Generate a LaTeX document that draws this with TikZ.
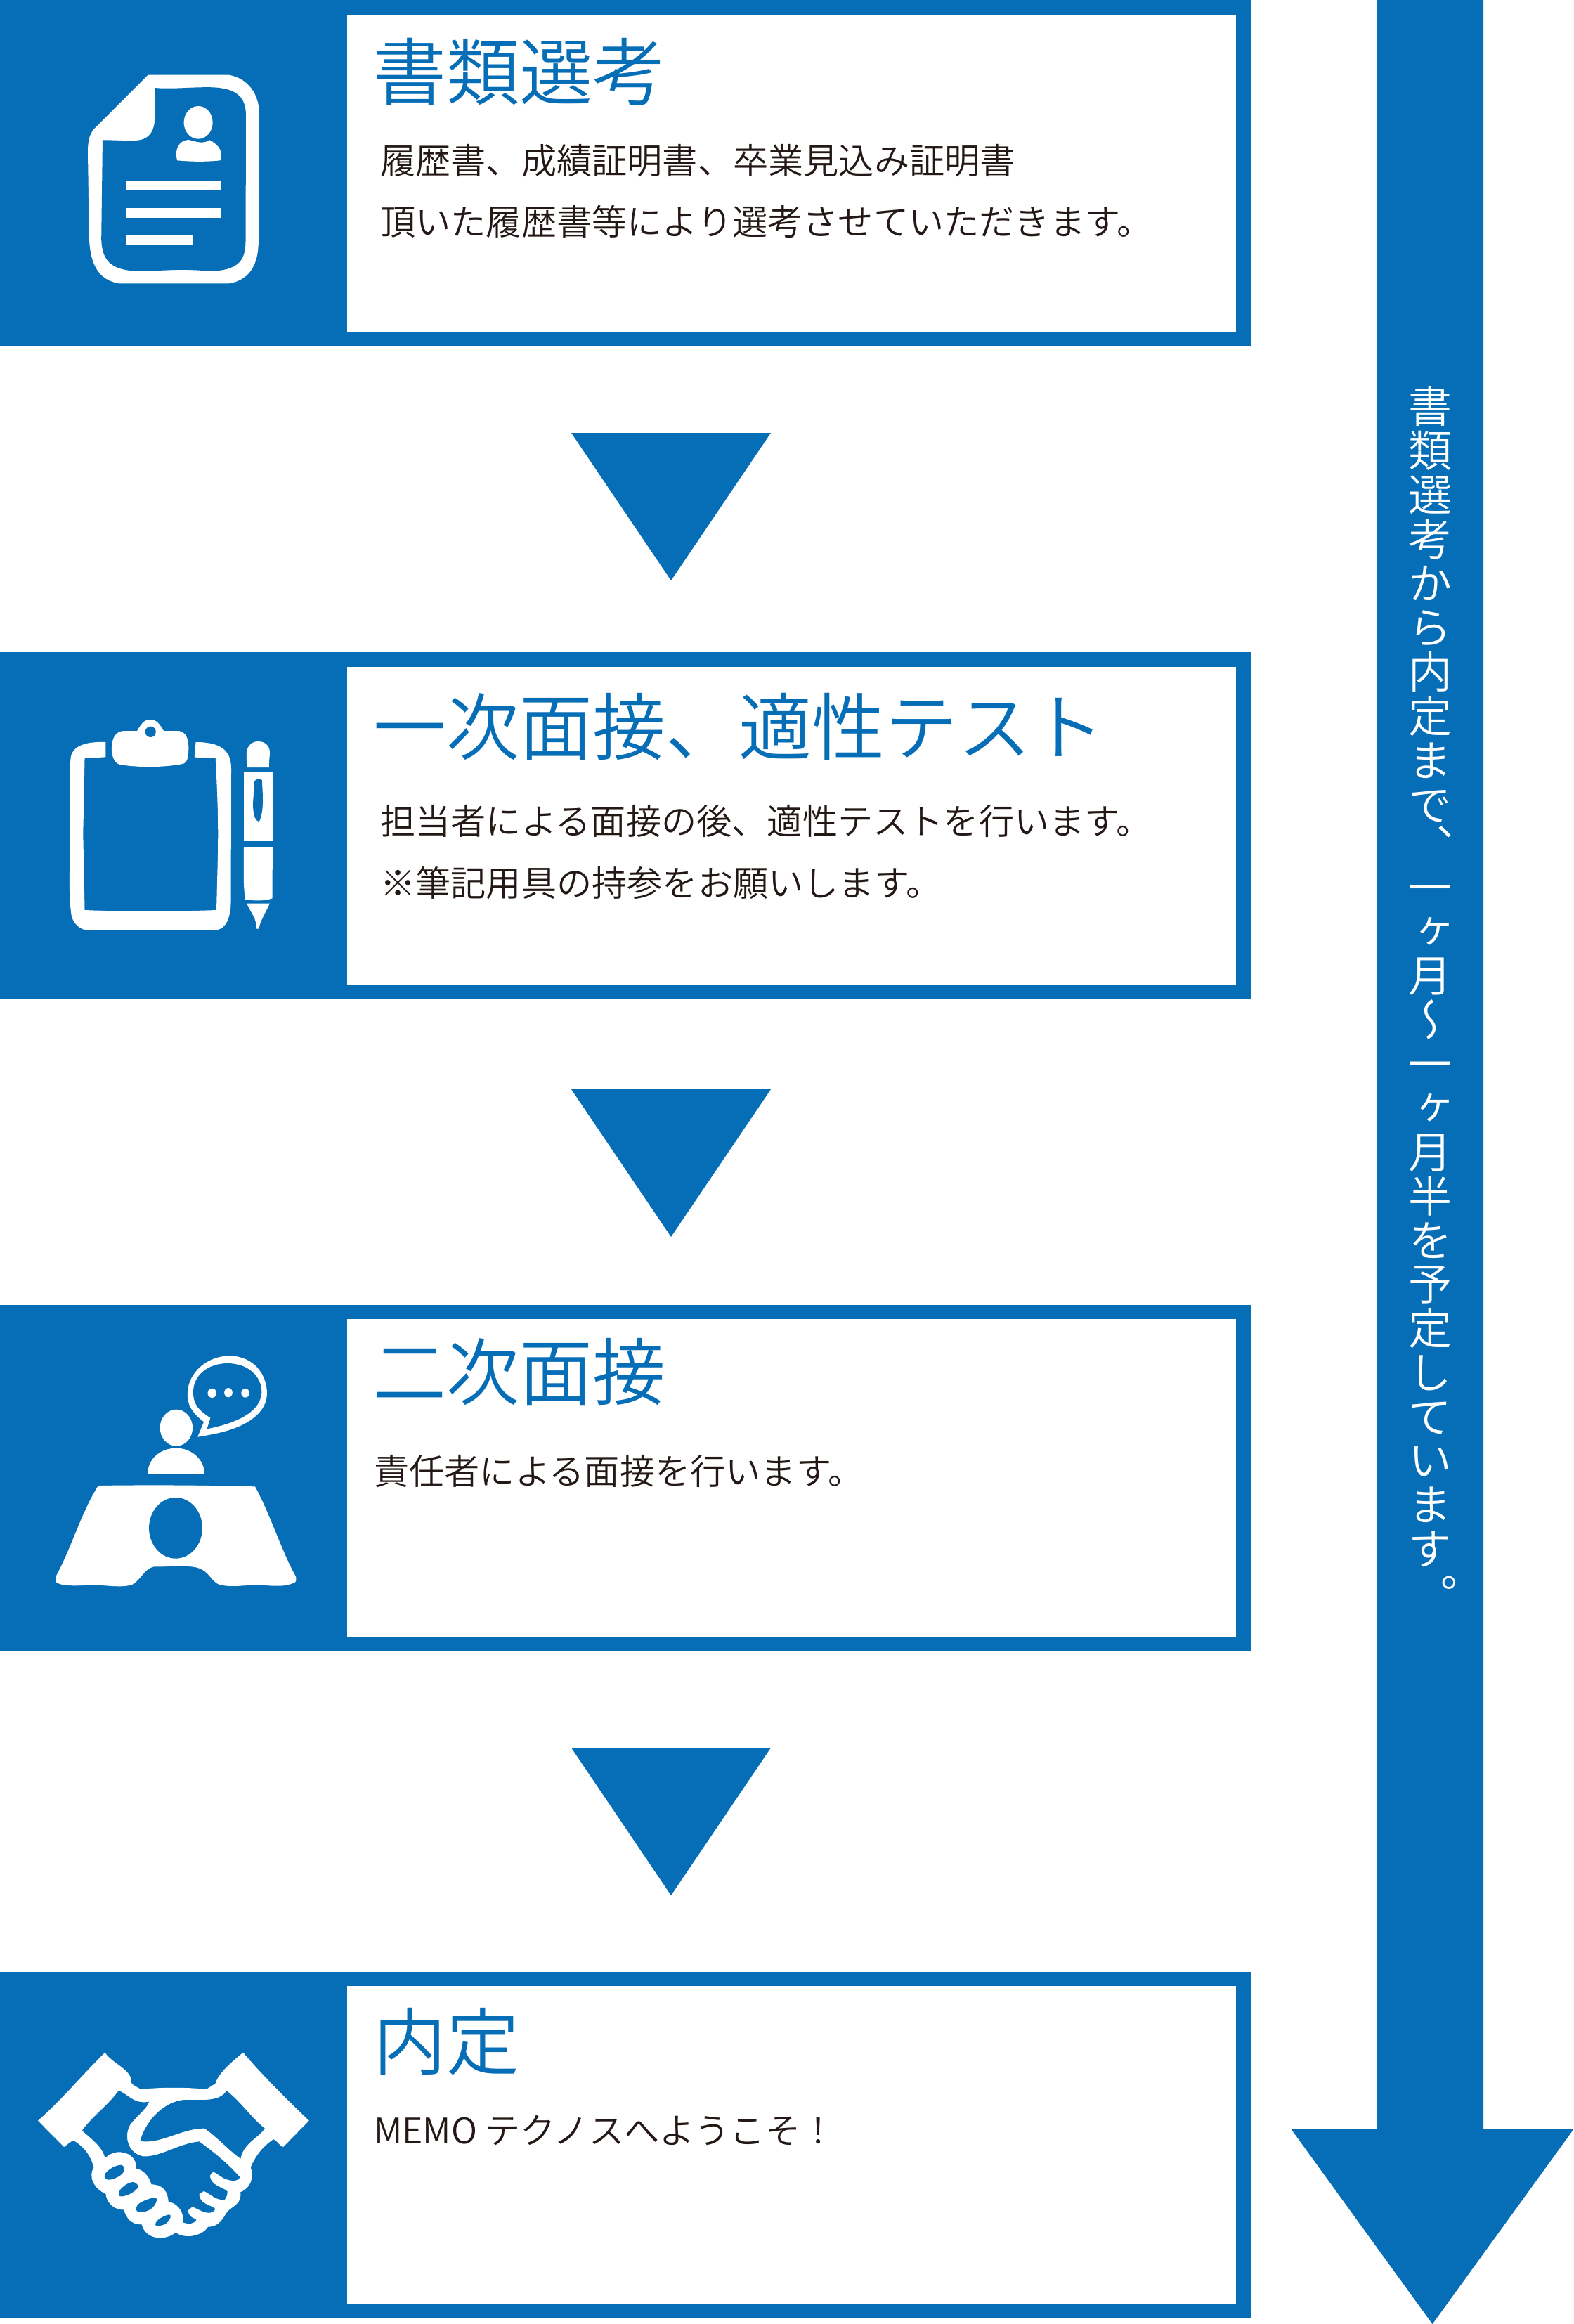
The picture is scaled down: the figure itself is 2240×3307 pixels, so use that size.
\documentclass[tikz,border=0pt]{standalone}
\usepackage{fontspec}
\newfontfamily\jpt{Noto Sans CJK JP DemiLight}
\newfontfamily\vjp[RawFeature=+vert]{Noto Sans CJK JP DemiLight}
\definecolor{tblue}{HTML}{066DB7}
\definecolor{tink}{HTML}{231815}
\tikzset{
  band/.style={fill=tblue,draw=none},
  paper/.style={fill=white,draw=none},
  dnarrow/.style={fill=tblue,draw=none},
  titletext/.style={anchor=base west,inner sep=0pt,text=tblue,font=\jpt\fontsize{104}{104}\selectfont},
  bodytext/.style={anchor=base west,inner sep=0pt,text=tink,font=\jpt\fontsize{50.2}{51}\selectfont},
  vtext/.style={anchor=base,inner sep=0pt,text=white,font=\vjp\fontsize{62}{63}\selectfont},
  icon/.style={x=0.44643pt,y=-0.33333pt,yshift=-#1pt},
  ink/.style={fill=white,draw=none},
  hole/.style={fill=tblue,draw=none},
}
\begin{document}
\begin{tikzpicture}[x=1pt,y=-1pt]
\useasboundingbox (0,0) rectangle (2240,3307);
\fill[white] (0,0) rectangle (2240,3307);
% bands
\fill[band] (0,0) rectangle (1780,493);
\fill[paper] (494,21) rectangle (1759,472);
\fill[band] (0,928) rectangle (1780,1422);
\fill[paper] (494,949) rectangle (1759,1401);
\fill[band] (0,1857) rectangle (1780,2350);
\fill[paper] (494,1877) rectangle (1759,2329);
\fill[band] (0,2806) rectangle (1780,3299);
\fill[paper] (494,2826) rectangle (1759,3279);
% triangles
\fill[dnarrow] (813,616) -- (1097,616) -- (955,826) -- cycle;
\fill[dnarrow] (813,1550) -- (1097,1550) -- (955,1760) -- cycle;
\fill[dnarrow] (813,2487) -- (1097,2487) -- (955,2697) -- cycle;
% long arrow
\fill[dnarrow] (1959,0) -- (2111,0) -- (2111,3029) -- (2240,3029) -- (2038.5,3307) -- (1837,3029) -- (1959,3029) -- cycle;
% titles and text
\node[titletext] (t1) at (531,141) {書類選考};
\node[bodytext] (b1a) at (541,247) {履歴書、成績証明書、卒業見込み証明書};
\node[bodytext] (b1b) at (541,334) {頂いた履歴書等により選考させていただきます。};
\node[titletext] (t2) at (531,1073) {一次面接、適性テスト};
\node[bodytext] (b2a) at (541,1187) {担当者による面接の後、適性テストを行います。};
\node[bodytext] (b2b) at (541,1275) {※筆記用具の持参をお願いします。};
\node[titletext] (t3) at (531,1991) {二次面接};
\node[bodytext] (b3a) at (532,2112) {責任者による面接を行います。};
\node[titletext] (t4) at (531,2944) {内定};
\node[bodytext] (b4a) at (532,3050) {MEMO テクノスへようこそ！};
% vertical text
\foreach \c [count=\i from 0] in {書,類,選,考,か,ら,内,定,ま,で}
  \node[vtext] (va\i) at (2035,601+63*\i) {\c};
\node[vtext] (vacomma) at (2037,1226) {、};
\foreach \c [count=\i from 0] in {一,ヶ,月,～,一,ヶ,月,半,を,予,定,し,て,い,ま,す}
  \node[vtext] (vb\i) at (2035,1286+62.75*\i) {\c};
\node[vtext] (vbstop) at (2043,2293) {。};
% icon 1: document
\begin{scope}[icon=0]
\fill[ink] (472,320) -- (730,320) .. controls (790,335) and (825,400) .. (826,480) -- (824,1030) .. controls (824,1120) and (800,1195) .. (730,1210) -- (380,1210) .. controls (310,1195) and (285,1120) .. (284,1000) -- (280,650) .. controls (280,600) and (285,575) .. (300,550) -- cycle;
\fill[hole] (493,375) .. controls (550,382) and (620,370) .. (680,373) .. controls (750,378) and (783,410) .. (784,490) -- (783,1020) .. controls (783,1100) and (770,1150) .. (680,1157) .. controls (640,1155) and (600,1150) .. (560,1152) .. controls (520,1154) and (470,1157) .. (430,1157) .. controls (360,1150) and (325,1120) .. (323,1020) -- (327,598) .. controls (380,598) and (420,604) .. (445,598) .. controls (480,590) and (493,550) .. (493,510) -- cycle;
\fill[ink] (632,523) ellipse [x radius=46,y radius=70];
\fill[ink] (565,685) .. controls (555,640) and (570,600) .. (600,597) .. controls (625,603) and (645,618) .. (668,598) .. controls (700,620) and (712,650) .. (702,685) .. controls (650,692) and (610,690) .. cycle;
\fill[ink] (404,772) rectangle (703,811);
\fill[ink] (404,889) rectangle (703,929);
\fill[ink] (404,1004) rectangle (613,1043);
\end{scope}
% icon 2: clipboard and pen
\begin{scope}[icon=920]
\fill[ink] (337,408) .. controls (270,405) and (228,425) .. (225,480) .. controls (218,600) and (225,750) .. (224,850) .. controls (222,950) and (218,1060) .. (228,1150) .. controls (235,1185) and (255,1205) .. (272,1210) -- (690,1210) .. controls (720,1205) and (735,1160) .. (736,1090) -- (737,520) .. controls (737,440) and (700,408) .. (624,408) -- (620,473) -- (687,475) .. controls (692,600) and (695,700) .. (695,800) .. controls (695,900) and (692,1000) .. (690,1125) .. controls (540,1132) and (400,1132) .. (270,1125) -- (265,800) -- (270,477) -- (337,472) -- cycle;
\fill[ink] (437,360) .. controls (450,330) and (460,312) .. (478,312) .. controls (500,312) and (508,330) .. (522,360) -- (570,360) .. controls (595,365) and (602,400) .. (601,440) .. controls (600,480) and (595,495) .. (585,500) .. controls (530,517) and (430,517) .. (380,503) .. controls (362,495) and (355,460) .. (356,430) .. controls (358,385) and (370,362) .. (395,360) -- cycle;
\fill[hole] (480,364) ellipse [x radius=17,y radius=23];
\fill[ink] (787,516) .. controls (787,490) and (785,470) .. (786,450) .. controls (790,420) and (805,405) .. (823,405) .. controls (845,405) and (860,425) .. (860,450) .. controls (860,475) and (857,490) .. (858,516) -- cycle;
\fill[ink] (777,533) rectangle (869,831);
\fill[hole] (810,578) .. controls (812,570) and (825,560) .. (835,570) .. controls (838,640) and (842,700) .. (826,748) .. controls (805,740) and (805,680) .. (808,640) -- cycle;
\fill[ink] (777,855) -- (869,855) -- (868,1075) .. controls (840,1088) and (810,1085) .. (782,1080) .. controls (775,1030) and (777,950) .. (777,855) -- cycle;
\fill[ink] (787,1097) -- (860,1097) .. controls (845,1140) and (830,1170) .. (825,1205) -- (816,1205) .. controls (820,1160) and (800,1140) .. (787,1097) -- cycle;
\end{scope}
% icon 3: interview
\begin{scope}[icon=1850]
\fill[ink] (630,584) -- (650,520) .. controls (610,480) and (595,440) .. (598,395) .. controls (600,310) and (660,238) .. (733,238) .. controls (810,240) and (852,320) .. (851,400) .. controls (850,480) and (790,530) .. (730,555) .. controls (700,568) and (670,575) .. (630,584) -- cycle;
\fill[hole] (660,550) -- (671,503) .. controls (635,470) and (617,450) .. (616,395) .. controls (615,320) and (665,270) .. (725,270) .. controls (790,270) and (835,325) .. (834,395) .. controls (830,470) and (770,520) .. (660,550) -- cycle;
\fill[ink] (676,397) ellipse [x radius=14,y radius=20];
\fill[ink] (728,395) ellipse [x radius=13,y radius=20];
\fill[ink] (782,397) ellipse [x radius=13,y radius=19];
\fill[ink] (562,545) ellipse [x radius=52,y radius=78];
\fill[ink] (471,743) .. controls (470,680) and (510,632) .. (562,632) .. controls (610,632) and (652,680) .. (652,743) -- cycle;
\fill[ink] (313,792) .. controls (400,790) and (600,788) .. (813,796) .. controls (860,910) and (900,1080) .. (943,1180) .. controls (945,1195) and (945,1205) .. (935,1208) .. controls (900,1230) and (850,1215) .. (800,1216) .. controls (760,1222) and (710,1225) .. (692,1210) .. controls (670,1190) and (665,1160) .. (635,1145) .. controls (600,1128) and (530,1140) .. (490,1138) .. controls (460,1148) and (450,1190) .. (425,1212) .. controls (400,1230) and (340,1218) .. (300,1216) .. controls (260,1218) and (200,1225) .. (180,1205) .. controls (176,1195) and (178,1185) .. (180,1175) .. controls (230,1050) and (255,920) .. (313,792) -- cycle;
\fill[hole] (560,973) ellipse [x radius=85,y radius=130];
\end{scope}
% icon 4: handshake
\begin{scope}[icon=2790]
\fill[ink] (335,392) .. controls (350,430) and (410,460) .. (418,505) .. controls (412,530) and (435,535) .. (448,549) .. controls (510,540) and (600,540) .. (658,549) -- (687,524) .. controls (695,480) and (745,425) .. (775,392) .. controls (830,480) and (920,600) .. (985,683) -- (903,795) .. controls (890,790) and (885,770) .. (872,762) .. controls (840,790) and (815,830) .. (799,882) .. controls (810,925) and (800,970) .. (766,988) .. controls (772,1035) and (745,1045) .. (725,1070) .. controls (710,1100) and (700,1135) .. (663,1136) .. controls (645,1175) and (590,1190) .. (560,1160) .. controls (530,1195) and (465,1195) .. (452,1126) .. controls (415,1125) and (405,1100) .. (394,1063) .. controls (370,1065) and (340,1040) .. (337,995) .. controls (300,975) and (280,920) .. (299,883) .. controls (290,835) and (270,795) .. (235,768) .. controls (225,770) and (215,785) .. (204,795) -- (121,683) .. controls (200,590) and (260,490) .. (335,392) -- cycle;
\fill[hole] (378,555) .. controls (405,565) and (425,615) .. (475,602) .. controls (470,630) and (430,670) .. (415,700) .. controls (395,745) and (405,820) .. (455,835) .. controls (510,840) and (570,780) .. (635,772) .. controls (680,815) and (730,870) .. (765,925) .. controls (755,945) and (735,940) .. (715,930) -- (680,900) -- (670,915) .. controls (668,960) and (710,965) .. (725,985) .. controls (725,1000) and (722,1010) .. (716,1020) .. controls (690,1025) and (670,995) .. (650,983) -- (635,995) .. controls (635,1040) and (670,1040) .. (687,1060) .. controls (670,1095) and (640,1065) .. (613,1050) -- (600,1065) .. controls (600,1090) and (610,1095) .. (626,1105) .. controls (620,1125) and (600,1125) .. (585,1118) .. controls (585,1080) and (575,1040) .. (537,1028) .. controls (535,985) and (520,955) .. (483,955) .. controls (475,920) and (460,895) .. (435,887) .. controls (435,840) and (410,815) .. (375,817) .. controls (355,820) and (345,830) .. (335,842) .. controls (325,790) and (290,760) .. (262,725) .. controls (290,670) and (350,610) .. (378,555) -- cycle;
\fill[hole] (447,770) .. controls (460,700) and (510,610) .. (580,595) .. controls (620,590) and (700,610) .. (722,555) .. controls (770,605) and (800,670) .. (844,716) .. controls (825,755) and (775,780) .. (767,845) .. controls (730,810) and (690,750) .. (652,716) .. controls (580,715) and (510,785) .. (447,770) -- cycle;
\fill[hole] plot[smooth cycle,tension=0.7] coordinates {(333,920) (350,890) (385,872) (395,890) (385,915) (350,935)};
\fill[hole] plot[smooth cycle,tension=0.7] coordinates {(382,1005) (385,975) (420,945) (440,965) (415,995)};
\fill[hole] plot[smooth cycle,tension=0.7] coordinates {(436,1068) (445,1035) (495,1012) (492,1045) (465,1070)};
\fill[hole] plot[smooth cycle,tension=0.7] coordinates {(497,1130) (505,1105) (538,1084) (542,1100) (525,1125)};
\end{scope}
\end{tikzpicture}
\end{document}
